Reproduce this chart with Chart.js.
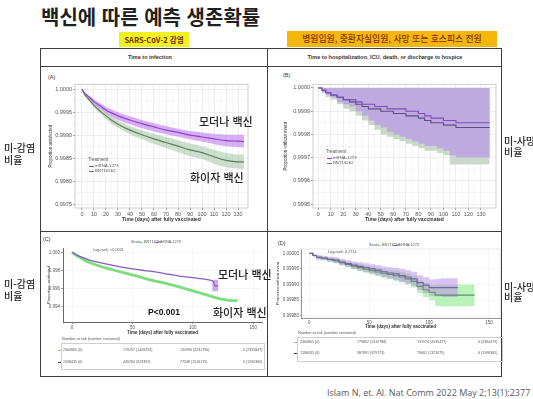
<!DOCTYPE html>
<html lang="ko">
<head>
<meta charset="utf-8">
<script src="https://cdn.jsdelivr.net/npm/chart.js@4.4.1/dist/chart.umd.min.js"></script>
<style>
  html, body { margin: 0; padding: 0; background: #fff; }
  body { position: relative; width: 533px; height: 399px; overflow: hidden; font-family: 'Liberation Sans', Arial, sans-serif; }
  canvas, .t, .r { position: absolute; }
  .t { white-space: nowrap; line-height: 1; }
</style>
</head>
<body>
<canvas id="cA" width="210" height="146" style="left:44px;top:80px"></canvas>
<canvas id="cB" width="226" height="146" style="left:272px;top:80px"></canvas>
<canvas id="cC" width="222" height="97" style="left:44px;top:240px"></canvas>
<canvas id="cD" width="232" height="93" style="left:272px;top:240px"></canvas>
<script>
// --- (A) time to infection ---
const DAYS_A = [0, 2, 5, 10, 15, 20, 25, 30, 40, 50, 60, 70, 80, 90, 100, 110, 120, 130, 135];
const MODERNA_A    = [1.0000, 0.99992, 0.99985, 0.99973, 0.99964, 0.99955, 0.99948, 0.99942, 0.99933, 0.99925, 0.99918, 0.99911, 0.99906, 0.99900, 0.99896, 0.99892, 0.99888, 0.99887, 0.99886];
const MODERNA_A_LO = [1.0000, 0.99990, 0.99982, 0.99968, 0.99958, 0.99948, 0.99940, 0.99933, 0.99924, 0.99915, 0.99908, 0.99902, 0.99897, 0.99891, 0.99886, 0.99881, 0.99876, 0.99874, 0.99873];
const MODERNA_A_HI = [1.0000, 0.99994, 0.99988, 0.99978, 0.99970, 0.99962, 0.99956, 0.99950, 0.99941, 0.99933, 0.99926, 0.99920, 0.99914, 0.99909, 0.99906, 0.99903, 0.99901, 0.99901, 0.99901];
const PFIZER_A     = [1.0000, 0.99990, 0.99980, 0.99965, 0.99953, 0.99942, 0.99932, 0.99924, 0.99911, 0.99901, 0.99892, 0.99884, 0.99876, 0.99868, 0.99862, 0.99853, 0.99845, 0.99842, 0.99842];
const PFIZER_A_LO  = [1.0000, 0.99988, 0.99977, 0.99960, 0.99947, 0.99935, 0.99924, 0.99916, 0.99902, 0.99891, 0.99881, 0.99872, 0.99863, 0.99854, 0.99848, 0.99838, 0.99830, 0.99827, 0.99826];
const PFIZER_A_HI  = [1.0000, 0.99992, 0.99983, 0.99970, 0.99959, 0.99949, 0.99940, 0.99932, 0.99920, 0.99911, 0.99903, 0.99896, 0.99889, 0.99882, 0.99876, 0.99868, 0.99861, 0.99858, 0.99858];
const X_TICKS_A = [0, 10, 20, 30, 40, 50, 60, 70, 80, 90, 100, 110, 120, 130];
const Y_TICKS_A = [0.9975, 0.9980, 0.9985, 0.9990, 0.9995, 1.0000];

// --- (B) time to hospitalization, ICU, death or hospice ---
const DAYS_B = [0, 3, 6, 10, 15, 20, 25, 30, 35, 40, 45, 50, 55, 60, 65, 70, 75, 80, 85, 90, 95, 100, 105, 110, 137];
const MODERNA_B    = [1.0, 0.99999, 0.99998, 0.99997, 0.99996, 0.99995, 0.99995, 0.99994, 0.99993, 0.99993, 0.99992, 0.99992, 0.99991, 0.99991, 0.99991, 0.99990, 0.99990, 0.99989, 0.99988, 0.99987, 0.99987, 0.99986, 0.99986, 0.99985, 0.99985];
const MODERNA_B_LO = [1.0, 0.99998, 0.99997, 0.99996, 0.99994, 0.99993, 0.99992, 0.99990, 0.99988, 0.99986, 0.99984, 0.99983, 0.99981, 0.99980, 0.99979, 0.99978, 0.99977, 0.99976, 0.99975, 0.99975, 0.99974, 0.99973, 0.99971, 0.99970, 0.99970];
const PFIZER_B     = [1.0, 0.99999, 0.99998, 0.99997, 0.99996, 0.99995, 0.99994, 0.99993, 0.99992, 0.99991, 0.99991, 0.99990, 0.99990, 0.99989, 0.99989, 0.99988, 0.99988, 0.99987, 0.99986, 0.99985, 0.99985, 0.99984, 0.99984, 0.99983, 0.99983];
const PFIZER_B_LO  = [1.0, 0.99998, 0.99996, 0.99995, 0.99993, 0.99991, 0.99990, 0.99988, 0.99986, 0.99984, 0.99982, 0.99980, 0.99979, 0.99978, 0.99977, 0.99976, 0.99975, 0.99974, 0.99973, 0.99973, 0.99972, 0.99971, 0.99967, 0.99967, 0.99967];
const X_TICKS_B = X_TICKS_A;
const Y_TICKS_B = [0.9995, 0.9996, 0.9997, 0.9998, 0.9999, 1.0000];

// --- (C) infection, survminer plot ---
const DAYS_C_MOD = [0, 2, 5, 10, 15, 20, 25, 30, 40, 50, 60, 70, 80, 90, 100, 110, 115, 117, 118, 121];
const MODERNA_C  = [1.0, 0.99985, 0.99964, 0.99935, 0.99912, 0.99895, 0.99880, 0.99866, 0.99840, 0.99818, 0.99799, 0.99781, 0.99758, 0.99735, 0.99721, 0.99703, 0.99690, 0.99676, 0.99630, 0.99630];
const DAYS_C_MOD_BAND = [116, 121];
const MODERNA_C_LO = [0.99570, 0.99570];
const MODERNA_C_HI = [0.99698, 0.99698];
const DAYS_C_PFZ = [0, 2, 5, 10, 15, 20, 25, 30, 40, 50, 60, 70, 80, 90, 100, 110, 120, 125, 130, 137];
const PFIZER_C   = [1.0, 0.99980, 0.99955, 0.99915, 0.99885, 0.99860, 0.99838, 0.99820, 0.99785, 0.99750, 0.99713, 0.99680, 0.99650, 0.99613, 0.99575, 0.99535, 0.99495, 0.99480, 0.99470, 0.99466];
const X_TICKS_C = [0, 50, 100, 150];
const Y_TICKS_C = [0.994, 0.996, 0.998, 1.000];
const RISK_C_PFZ = ['2364805 (0)', '770297 (1409294)', '135996 (2231790)', '0 (2355847)'];
const RISK_C_MOD = ['1598435 (0)', '449284 (923392)', '77548 (1516175)', '0 (1590360)'];

// --- (D) severe outcome, survminer plot ---
const DAYS_D_MOD = [0, 3, 6, 10, 15, 20, 25, 30, 35, 40, 45, 50, 55, 60, 65, 70, 75, 80, 85, 90, 95, 100, 105, 110, 115, 120, 124];
const MODERNA_D    = [1.0, 0.999993, 0.999987, 0.999985, 0.999981, 0.999978, 0.999972, 0.999967, 0.999962, 0.999958, 0.999954, 0.999950, 0.999946, 0.999941, 0.999937, 0.999934, 0.999929, 0.999924, 0.999918, 0.999906, 0.999898, 0.999890, 0.999890, 0.999890, 0.999890, 0.999890, 0.999890];
const MODERNA_D_LO = [1.0, 0.999990, 0.999980, 0.999978, 0.999973, 0.999969, 0.999962, 0.999956, 0.999950, 0.999945, 0.999940, 0.999935, 0.999930, 0.999924, 0.999919, 0.999914, 0.999908, 0.999902, 0.999895, 0.999882, 0.999873, 0.999864, 0.999862, 0.999860, 0.999860, 0.999860, 0.999860];
const MODERNA_D_HI = [1.0, 0.999997, 0.999994, 0.999992, 0.999989, 0.999987, 0.999982, 0.999978, 0.999974, 0.999971, 0.999968, 0.999965, 0.999962, 0.999958, 0.999955, 0.999953, 0.999950, 0.999946, 0.999941, 0.999930, 0.999923, 0.999916, 0.999918, 0.999920, 0.999920, 0.999920, 0.999920];
const DAYS_D_PFZ = [0, 3, 6, 10, 15, 20, 25, 30, 35, 40, 45, 50, 55, 60, 65, 70, 75, 80, 85, 90, 95, 100, 105, 138];
const PFIZER_D    = [1.0, 0.999993, 0.999987, 0.999984, 0.999980, 0.999976, 0.999970, 0.999964, 0.999959, 0.999954, 0.999949, 0.999944, 0.999940, 0.999936, 0.999932, 0.999928, 0.999924, 0.999918, 0.999910, 0.999894, 0.999883, 0.999875, 0.999866, 0.999866];
const PFIZER_D_LO = [1.0, 0.999990, 0.999980, 0.999978, 0.999973, 0.999968, 0.999962, 0.999955, 0.999949, 0.999943, 0.999938, 0.999932, 0.999927, 0.999922, 0.999917, 0.999912, 0.999907, 0.999900, 0.999890, 0.999872, 0.999860, 0.999850, 0.999830, 0.999830];
const PFIZER_D_HI = [1.0, 0.999996, 0.999993, 0.999990, 0.999986, 0.999983, 0.999978, 0.999973, 0.999969, 0.999965, 0.999960, 0.999956, 0.999952, 0.999949, 0.999946, 0.999943, 0.999940, 0.999935, 0.999928, 0.999914, 0.999905, 0.999898, 0.999900, 0.999900];
const X_TICKS_D = [0, 50, 100, 150];
const Y_TICKS_D = [0.99980, 0.99985, 0.99990, 0.99995, 1.00000];
const RISK_D_PFZ = ['2364805 (0)', '773662 (1419788)', '131974 (2035477)', '0 (2364479)'];
const RISK_D_MOD = ['1598435 (0)', '387891 (929173)', '79661 (1321675)', '0 (1598365)'];

const FAM = "'Liberation Sans', Arial, sans-serif";
Chart.defaults.font.family = FAM;
Chart.defaults.color = '#4d4d4d';

// --- helpers ---
function pts(xs, ys) { return xs.map((x, i) => ({ x, y: ys[i] })); }
function withMid(list) {
  const out = [];
  list.forEach((v, i) => { out.push(v); if (i < list.length - 1) out.push((v + list[i + 1]) / 2); });
  return out;
}
const isMaj = (list, v) => list.some(t => Math.abs(t - v) < 1e-9);

// text centred vertically on y (or on x,y when center); tiny sizes drawn at 2x and scaled down
function txt(x, y, s, size, css, center) {
  const d = document.createElement('div');
  d.className = 't';
  d.textContent = s;
  const k = size < 7 ? 0.5 : 1;
  const tr = center ? 'translate(-50%,-50%)' : 'translateY(-50%)';
  d.style.cssText = `left:${x}px;top:${y}px;font-size:${size / k}px;transform:${tr} scale(${k});` +
    `transform-origin:${center ? 'center center' : 'left center'};` + (css || '');
  document.body.appendChild(d);
  return d;
}
function rule(x, y, w, h, color) {
  const d = document.createElement('div');
  d.className = 'r';
  d.style.cssText = `left:${x}px;top:${y}px;width:${w}px;height:${h}px;background:${color}`;
  document.body.appendChild(d);
}

const framePlugin = {
  id: 'frame',
  afterDraw(chart, args, opts) {
    if (!opts.color) return;
    const { ctx, chartArea: a } = chart;
    ctx.save();
    ctx.strokeStyle = opts.color;
    ctx.lineWidth = 0.8;
    ctx.strokeRect(a.left, a.top, a.right - a.left, a.bottom - a.top);
    ctx.restore();
  }
};

function survChart(id, o) {
  const xs = o.minor ? withMid(o.xTicks) : o.xTicks;
  const ys = o.minor ? withMid(o.yTicks) : o.yTicks;
  const grid = list => ({
    color: o.gridColor,
    lineWidth: c => (c.tick && isMaj(list, c.tick.value)) ? 0.7 : 0.35,
    tickLength: o.tickLen,
    tickColor: c => (c.tick && isMaj(list, c.tick.value)) ? '#777' : 'rgba(0,0,0,0)',
  });
  return new Chart(document.getElementById(id), {
    type: 'line',
    data: { datasets: o.datasets },
    options: {
      responsive: false, animation: false, devicePixelRatio: 1,
      layout: { padding: { top: o.padTop, right: o.padRight, left: 0, bottom: 0 } },
      plugins: { legend: { display: false }, tooltip: { enabled: false }, frame: { color: o.frame } },
      elements: { point: { radius: 0 } },
      scales: {
        x: {
          type: 'linear', min: o.xMin, max: o.xMax,
          afterFit: s => { s.height = o.xH; },
          afterBuildTicks: s => { s.ticks = xs.map(v => ({ value: v })); },
          ticks: { autoSkip: false, maxRotation: 0, padding: 1, font: { size: o.tickSize }, color: o.tickColor,
                   callback: v => isMaj(o.xTicks, v) ? String(Math.round(v)) : '' },
          grid: grid(o.xTicks),
          border: { display: o.axisLine, color: '#444', width: 0.8 },
          title: { display: true, text: 'Time (days) after fully vaccinated', color: '#333',
                   font: { size: o.titleSize, weight: 'bold' }, padding: { top: 0, bottom: o.xTitlePad } },
        },
        y: {
          type: 'linear', min: o.yMin, max: o.yMax,
          afterFit: s => { s.width = o.yW; },
          afterBuildTicks: s => { s.ticks = ys.map(v => ({ value: v })); },
          ticks: { autoSkip: false, padding: 1, font: { size: o.tickSize }, color: o.tickColor,
                   callback: v => isMaj(o.yTicks, v) ? v.toFixed(o.yDec) : '' },
          grid: grid(o.yTicks),
          border: { display: o.axisLine, color: '#444', width: 0.8 },
          title: { display: true, text: o.yTitle, color: '#333',
                   font: { size: o.titleSize - 0.5 }, padding: { top: o.yTitlePad, bottom: 0 } },
        },
      },
    },
    plugins: [framePlugin],
  });
}

function band(xs, lo, hi, color, order, opts) {
  return [
    Object.assign({ data: pts(xs, hi), borderWidth: 0, order, fill: false }, opts),
    Object.assign({ data: pts(xs, lo), borderWidth: 0, order, fill: '-1', backgroundColor: color }, opts),
  ];
}

// --- (A) ---
const smooth = { cubicInterpolationMode: 'monotone' };
survChart('cA', {
  xMin: -5.8, xMax: 138.3, yMin: 0.997414, yMax: 1.000108,
  xTicks: X_TICKS_A, yTicks: Y_TICKS_A, yDec: 4, minor: true,
  yW: 31, xH: 18, padTop: 3, padRight: 6, tickLen: 2, tickSize: 5.5, tickColor: '#555', titleSize: 5,
  xTitlePad: 3, yTitlePad: 4.3, yTitle: 'Proportion uninfected',
  gridColor: '#e6e6e6', frame: '#c4c4c4', axisLine: false,
  datasets: [
    Object.assign({ data: pts(DAYS_A, MODERNA_A), borderColor: '#8f45c9', borderWidth: 1.2, order: 0 }, smooth),
    Object.assign({ data: pts(DAYS_A, PFIZER_A), borderColor: '#5f7c62', borderWidth: 1.2, order: 0 }, smooth),
    ...band(DAYS_A, MODERNA_A_LO, MODERNA_A_HI, 'rgba(200,140,240,0.7)', 1, smooth),
    ...band(DAYS_A, PFIZER_A_LO, PFIZER_A_HI, 'rgba(170,200,170,0.6)', 2, smooth),
  ],
});

// --- (B) ---
survChart('cB', {
  xMin: -4.2, xMax: 142, yMin: 0.999483, yMax: 1.0000158,
  xTicks: X_TICKS_B, yTicks: Y_TICKS_B, yDec: 4, minor: true,
  yW: 41, xH: 18, padTop: 3, padRight: 2, tickLen: 2, tickSize: 5.5, tickColor: '#555', titleSize: 5,
  xTitlePad: 3, yTitlePad: 11.3, yTitle: 'Proportion without event',
  gridColor: '#e6e6e6', frame: '#c4c4c4', axisLine: false,
  datasets: [
    { data: pts(DAYS_B, MODERNA_B), borderColor: '#7d4fb8', borderWidth: 1.1, stepped: true, order: 0 },
    { data: pts(DAYS_B, PFIZER_B), borderColor: '#5f4d86', borderWidth: 1.1, stepped: true, order: 0 },
    { data: pts(DAYS_B, MODERNA_B_LO), borderWidth: 0, stepped: true, order: 1, fill: { value: 1 }, backgroundColor: 'rgba(188,168,224,0.95)' },
    { data: pts(DAYS_B, PFIZER_B_LO), borderWidth: 0, stepped: true, order: 2, fill: { value: 1 }, backgroundColor: '#cad7c9' },
  ],
});

// --- (C) ---
survChart('cC', {
  xMin: -7.45, xMax: 157.2, yMin: 0.992313, yMax: 1.000474,
  xTicks: X_TICKS_C, yTicks: Y_TICKS_C, yDec: 3, minor: false,
  yW: 19, xH: 15, padTop: 8, padRight: 4, tickLen: 2, tickSize: 4.5, tickColor: '#555', titleSize: 4.5,
  xTitlePad: 2, yTitlePad: 2.3, yTitle: 'Proportion uninfected',
  gridColor: '#f0f0f0', frame: null, axisLine: true,
  datasets: [
    Object.assign({ data: pts(DAYS_C_MOD, MODERNA_C), borderColor: '#8a5cc2', borderWidth: 1.3, order: 0 }, smooth),
    Object.assign({ data: pts(DAYS_C_PFZ, PFIZER_C), borderColor: '#7ddc7d', borderWidth: 2.8, order: 0 }, smooth),
    ...band(DAYS_C_MOD_BAND, MODERNA_C_LO, MODERNA_C_HI, 'rgba(195,145,235,0.8)', 1),
  ],
});

// --- (D) ---
survChart('cD', {
  xMin: -6.93, xMax: 159.2, yMin: 0.9997926, yMax: 1.0000138,
  xTicks: X_TICKS_D, yTicks: Y_TICKS_D, yDec: 5, minor: false,
  yW: 29, xH: 15, padTop: 9, padRight: 4, tickLen: 1, tickSize: 4.5, tickColor: '#555', titleSize: 4.5,
  xTitlePad: 3.6, yTitlePad: 3.3, yTitle: 'Proportion without event',
  gridColor: '#f0f0f0', frame: '#e4e4e4', axisLine: true,
  datasets: [
    { data: pts(DAYS_D_MOD, MODERNA_D), borderColor: '#77629f', borderWidth: 1.1, stepped: true, order: 0 },
    { data: pts(DAYS_D_PFZ, PFIZER_D), borderColor: '#5c8f68', borderWidth: 1.1, stepped: true, order: 0 },
    ...band(DAYS_D_MOD, MODERNA_D_LO, MODERNA_D_HI, 'rgba(185,145,230,0.55)', 1, { stepped: true }),
    ...band(DAYS_D_PFZ, PFIZER_D_LO, PFIZER_D_HI, 'rgba(140,235,140,0.6)', 2, { stepped: true }),
  ],
});

// --- slide text & table frame ---
const KO = "font-family:'Noto Sans CJK KR',sans-serif;";
txt(41, 16.5, '백신에 따른 예측 생존확률', 20, KO + 'font-weight:700;color:#1f1f1f');

rule(119, 32, 70, 15, '#eff21e');
txt(154, 39.5, 'SARS-CoV-2 감염', 7.5, KO + 'font-weight:700;color:#7a2c12', true);
rule(287, 31, 210, 16, '#f5b70c');
txt(392, 39, '병원입원, 중환자실입원, 사망 또는 호스피스 전원', 8.8, KO + 'font-weight:500;color:#86300a', true);

// table lines
const LC = '#3d3d3d';
rule(40, 48, 462, 1, LC);
rule(40, 66, 462, 1, LC);
rule(40, 231, 462, 1, LC);
rule(40, 376, 462, 1, LC);
rule(40, 48, 1, 329, LC);
rule(501, 48, 1, 329, LC);
rule(267, 48, 1, 329, LC);

txt(150, 57, 'Time to infection', 5.5, 'font-weight:700;color:#333', true);
txt(385, 57, 'Time to hospitalization, ICU, death, or discharge to hospice', 5.5, 'font-weight:700;color:#333', true);

// panel letters
txt(48, 77, '(A)', 5.5, 'color:#333');
txt(283, 75, '(B)', 5.5, 'color:#333');
txt(43, 239, '(C)', 5.5, 'color:#333');
txt(278, 243, '(D)', 5.5, 'color:#333');

// ggplot legends (A, B)
function ggLegend(x, y) {
  txt(x, y, 'Treatment', 4.5, 'color:#555');
  rule(x + 1, y + 5.5, 5, 0.8, '#8f45c9');
  txt(x + 7, y + 5.5, 'mRNA-1273', 4.3, 'color:#555');
  rule(x + 1, y + 10.5, 5, 0.8, '#5f7c62');
  txt(x + 7, y + 10.5, 'BNT162b2', 4.3, 'color:#555');
}
ggLegend(88, 160);
ggLegend(326, 152);

// survminer legends (C, D)
function smLegend(x, y) {
  txt(x, y, 'Strata', 3.8, 'color:#555');
  rule(x + 8, y, 4, 0.8, '#7ddc7d');
  txt(x + 13, y, 'BNT162b2', 3.8, 'color:#555');
  rule(x + 24, y, 4, 0.8, '#8a5cc2');
  txt(x + 29, y, 'mRNA-1273', 3.8, 'color:#555');
}
smLegend(131, 242);
smLegend(369, 245);
txt(93, 250, 'Log-rank: <0.0001', 3.8, 'color:#555');
txt(328, 251.5, 'Log-rank: 0.2714', 3.8, 'color:#555');

// number at risk tables
function riskTable(x, y, w, h, labelY, cols, rowY, pfz, mod) {
  txt(x + 1, labelY, 'Number at risk (number censored)', 3.8, 'color:#555');
  const b = document.createElement('div');
  b.className = 'r';
  b.style.cssText = `left:${x}px;top:${y}px;width:${w}px;height:${h}px;border:0.6px solid #cfcfcf`;
  document.body.appendChild(b);
  rule(x - 3, rowY[0], 2.5, 0.8, '#6ed36e');
  rule(x - 3, rowY[1], 2.5, 0.8, '#3d3566');
  pfz.forEach((s, i) => txt(cols[i], rowY[0], s, 3.6, 'color:#555'));
  mod.forEach((s, i) => txt(cols[i], rowY[1], s, 3.6, 'color:#555'));
}
riskTable(61, 343, 202, 25, 339.3, [63, 123, 180, 243], [350, 361.7], RISK_C_PFZ, RISK_C_MOD);
riskTable(297, 337, 204, 23, 333.3, [300, 357, 417, 478], [342.3, 352.7], RISK_D_PFZ, RISK_D_MOD);

// Korean annotations
const ANN = KO + 'font-weight:500;color:#222';
txt(199, 121, '모더나 백신', 11, ANN);
txt(190, 177, '화이자 백신', 11, ANN);
txt(218, 273.5, '모더나 백신', 11, ANN);
txt(213, 312, '화이자 백신', 11, ANN);
txt(148, 312, 'P<0.001', 8.5, 'font-weight:700;color:#111');

// side labels
const SIDE = KO + 'font-weight:500;color:#2a2a2a';
txt(4, 148, '미-감염', 10, SIDE);
txt(4, 160, '비율', 10, SIDE);
txt(4, 284, '미-감염', 10, SIDE);
txt(4, 295.5, '비율', 10, SIDE);
txt(504, 141, '미-사망', 10, SIDE);
txt(504, 151.5, '비율', 10, SIDE);
txt(504, 287, '미-사망', 10, SIDE);
txt(504, 297, '비율', 10, SIDE);

// citation
txt(327, 391.5, 'Islam N, et. Al. Nat Comm 2022 May 2;13(1):2377', 9, "font-family:'Open Sans',sans-serif;color:#5a5a5a");
</script>
</body>
</html>
